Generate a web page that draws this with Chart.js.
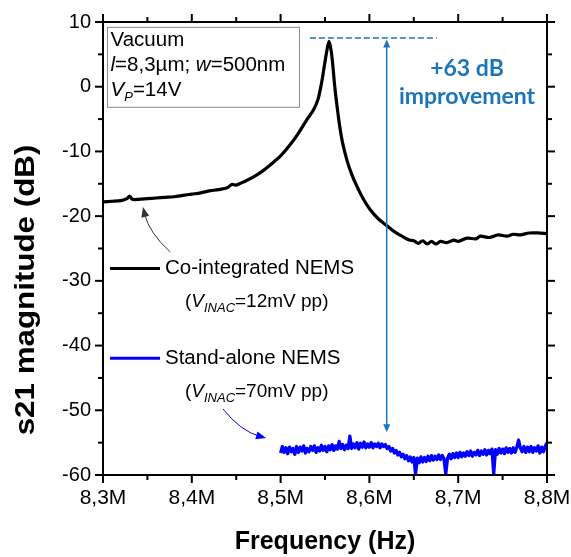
<!DOCTYPE html>
<html>
<head>
<meta charset="utf-8">
<script src="https://cdn.jsdelivr.net/npm/chart.js@4/dist/chart.umd.min.js"></script>
<style>
  html, body { margin: 0; padding: 0; background: #fff; }
  #wrap { width: 571px; height: 557px; position: relative; }
</style>
</head>
<body>
<div id="wrap"><canvas id="c" width="571" height="557"></canvas></div>
<script>
// ---------- DATA ----------
const xTickValues = [8.3, 8.4, 8.5, 8.6, 8.7, 8.8];
const xTickLabels = ['8,3M', '8,4M', '8,5M', '8,6M', '8,7M', '8,8M'];
const xMinorValues = [8.35, 8.45, 8.55, 8.65, 8.75];
const yTickValues = [-60, -50, -40, -30, -20, -10, 0, 10];
const yTickLabels = ['-60', '-50', '-40', '-30', '-20', '-10', '0', '10'];
const yMinorValues = [-55, -45, -35, -25, -15, -5, 5];

// Co-integrated NEMS (black), frequency in MHz, magnitude in dB
const coFreq = [8.300, 8.310, 8.320, 8.327, 8.330, 8.333, 8.340, 8.350, 8.360, 8.370,
  8.380, 8.390, 8.400, 8.410, 8.420, 8.430, 8.440, 8.445, 8.450, 8.460,
  8.470, 8.480, 8.490, 8.500, 8.510, 8.520, 8.530, 8.537, 8.542, 8.546,
  8.549, 8.552, 8.5545, 8.557, 8.559, 8.561, 8.564, 8.567, 8.570, 8.575,
  8.580, 8.586, 8.593, 8.601, 8.610, 8.619, 8.628, 8.638, 8.645, 8.650,
  8.655, 8.660, 8.665, 8.670, 8.675, 8.680, 8.687, 8.695, 8.700, 8.710,
  8.720, 8.725, 8.735, 8.745, 8.755, 8.762, 8.770, 8.780, 8.790, 8.800];
const coMag = [-17.8, -17.7, -17.6, -17.3, -16.9, -17.4, -17.4, -17.3, -17.2, -17.1,
  -17.0, -16.8, -16.6, -16.4, -16.1, -15.9, -15.6, -15.1, -15.2, -14.6,
  -13.9, -13.0, -11.9, -10.7, -9.1, -7.2, -5.0, -3.6, -2.0, 0.5,
  3.0, 5.5, 7.0, 5.5, 3.0, 0.0, -3.5, -6.5, -8.8, -11.5,
  -13.5, -15.4, -17.3, -19.0, -20.4, -21.4, -22.4, -23.2, -23.7, -23.8,
  -24.2, -23.8, -24.3, -23.9, -24.3, -23.9, -24.1, -23.7, -23.9, -23.4,
  -23.5, -23.1, -23.3, -22.9, -23.1, -22.8, -22.9, -22.6, -22.6, -22.7];

// Stand-alone NEMS (blue)
const saFreq = [
  8.500, 8.502, 8.504, 8.506, 8.508, 8.510, 8.512, 8.514, 8.516, 8.518,
  8.520, 8.522, 8.524, 8.526, 8.528, 8.530, 8.532, 8.534, 8.536, 8.538,
  8.540, 8.542, 8.544, 8.546, 8.548, 8.550, 8.552, 8.554, 8.556, 8.558,
  8.560, 8.562, 8.564, 8.566, 8.568, 8.570, 8.572, 8.574, 8.576, 8.578,
  8.580, 8.582, 8.584, 8.586, 8.588, 8.590, 8.592, 8.594, 8.596, 8.598,
  8.600, 8.602, 8.604, 8.606, 8.608, 8.610, 8.612, 8.614, 8.616, 8.618,
  8.620, 8.622, 8.624, 8.626, 8.628, 8.630, 8.632, 8.634, 8.636, 8.638,
  8.640, 8.642, 8.644, 8.646, 8.648, 8.650, 8.652, 8.654, 8.656, 8.658,
  8.660, 8.662, 8.664, 8.666, 8.668, 8.670, 8.672, 8.674, 8.676, 8.678,
  8.680, 8.682, 8.684, 8.686, 8.688, 8.690, 8.692, 8.694, 8.696, 8.698,
  8.700, 8.702, 8.704, 8.706, 8.708, 8.710, 8.712, 8.714, 8.716, 8.718,
  8.720, 8.722, 8.724, 8.726, 8.728, 8.730, 8.732, 8.734, 8.736, 8.738,
  8.740, 8.742, 8.744, 8.746, 8.748, 8.750, 8.752, 8.754, 8.756, 8.758,
  8.760, 8.762, 8.764, 8.766, 8.768, 8.770, 8.772, 8.774, 8.776, 8.778,
  8.780, 8.782, 8.784, 8.786, 8.788, 8.790, 8.792, 8.794, 8.796, 8.798, 8.800];
const saMag = [
  -56.6, -55.6, -56.5, -55.8, -56.7, -55.7, -56.4, -55.9, -56.8, -55.6,
  -56.5, -55.7, -56.3, -55.5, -56.6, -55.9, -56.4, -55.6, -56.2, -55.5,
  -56.5, -55.8, -56.3, -55.4, -56.2, -55.6, -56.4, -55.5, -56.1, -55.3,
  -56.2, -55.5, -56.0, -54.8, -55.9, -55.3, -56.1, -55.4, -55.9, -54.0,
  -55.9, -55.2, -55.8, -55.0, -56.0, -55.1, -55.7, -54.9, -55.8, -55.2,
  -55.7, -55.0, -55.8, -55.2, -55.6, -55.1, -55.8, -55.2, -55.6, -55.3,
  -55.9, -55.6, -56.3, -55.9, -56.6, -56.2, -56.9, -56.5, -57.2, -56.8,
  -57.5, -57.0, -57.8, -57.2, -58.0, -57.3, -59.8, -57.4, -58.1, -57.2,
  -58.0, -57.3, -57.9, -57.1, -57.8, -57.0, -57.7, -57.1, -57.6, -56.9,
  -57.6, -57.0, -57.5, -59.8, -57.4, -56.8, -57.5, -56.7, -57.3, -56.6,
  -57.3, -56.5, -57.2, -56.6, -57.1, -56.4, -57.0, -56.3, -57.1, -56.5,
  -56.9, -56.2, -57.0, -56.3, -56.8, -56.1, -56.9, -56.2, -56.7, -56.0,
  -59.8, -56.1, -56.8, -55.9, -56.6, -56.0, -56.7, -55.8, -56.5, -55.9,
  -56.6, -55.8, -56.5, -55.7, -54.6, -55.8, -56.4, -55.6, -56.5, -55.7,
  -56.4, -55.6, -56.5, -55.8, -56.3, -55.5, -56.6, -55.7, -56.4, -55.6, -55.0];

// Annotation anchors (in data units: MHz, dB)
const improvementArrow = { f: 8.6195, top: 7.3, bottom: -53.4 };
const dashedLine = { f0: 8.533, f1: 8.676, v: 7.54 };

// ---------- CHART ----------
const FONT = '"Liberation Sans", Arial, sans-serif';
const ANN_BLUE = '#1c75b8';

function richText(ctx, x, y, parts) {
  let cx = x;
  parts.forEach(p => {
    ctx.font = p.font;
    ctx.fillText(p.t, cx, y + (p.dy || 0));
    cx += ctx.measureText(p.t).width;
  });
}
function arrowHead(ctx, x, y, ang, len, w) {
  ctx.beginPath();
  ctx.moveTo(x, y);
  ctx.lineTo(x - len * Math.cos(ang) + w * Math.sin(ang), y - len * Math.sin(ang) - w * Math.cos(ang));
  ctx.lineTo(x - len * Math.cos(ang) - w * Math.sin(ang), y - len * Math.sin(ang) + w * Math.cos(ang));
  ctx.closePath();
  ctx.fill();
}

const decor = {
  id: 'decor',
  afterDraw(chart) {
    const { ctx, chartArea: ca, scales } = chart;
    const X = v => scales.x.getPixelForValue(v);
    const Y = v => scales.y.getPixelForValue(v);
    ctx.save();
    // frame
    ctx.strokeStyle = '#000';
    ctx.lineWidth = 2;
    ctx.strokeRect(ca.left, ca.top, ca.right - ca.left, ca.bottom - ca.top);
    // ticks
    const tick = (x1, y1, x2, y2, w) => { ctx.lineWidth = w; ctx.beginPath(); ctx.moveTo(x1, y1); ctx.lineTo(x2, y2); ctx.stroke(); };
    xTickValues.forEach(v => { const px = X(v); tick(px, ca.bottom, px, ca.bottom + 8, 2); tick(px, ca.top, px, ca.top - 8, 2); });
    xMinorValues.forEach(v => { const px = X(v); tick(px, ca.bottom, px, ca.bottom + 5, 2); tick(px, ca.top, px, ca.top - 5, 2); });
    yTickValues.forEach(v => { const py = Y(v); tick(ca.left, py, ca.left - 8, py, 2); tick(ca.right, py, ca.right + 8, py, 2); });
    yMinorValues.forEach(v => { const py = Y(v); tick(ca.left, py, ca.left - 5, py, 2); tick(ca.right, py, ca.right + 5, py, 2); });

    // axis titles
    ctx.fillStyle = '#000';
    ctx.textAlign = 'center';
    ctx.textBaseline = 'middle';
    ctx.font = 'bold 25px ' + FONT;
    ctx.fillText('Frequency (Hz)', (ca.left + ca.right) / 2, 542);
    ctx.save();
    ctx.translate(27, 290);
    ctx.rotate(-Math.PI / 2);
    ctx.scale(1.16, 1);
    ctx.font = 'bold 27px ' + FONT;
    ctx.fillText('s21 magnitude (dB)', 0, 0);
    ctx.restore();

    // info box
    ctx.strokeStyle = '#8c8c8c';
    ctx.lineWidth = 1;
    const bx0 = X(8.3045), by0 = Y(9.25), bx1 = X(8.5207), by1 = Y(-3.1);
    ctx.fillStyle = '#fff';
    ctx.fillRect(bx0, by0, bx1 - bx0, by1 - by0);
    ctx.strokeRect(bx0 + 0.5, by0 + 0.5, bx1 - bx0, by1 - by0);
    ctx.fillStyle = '#000';
    ctx.textAlign = 'left';
    ctx.textBaseline = 'alphabetic';
    const f20 = '20.5px ' + FONT, f20i = 'italic 20.5px ' + FONT;
    const tx = X(8.3085);
    richText(ctx, tx, Y(6.35), [{ t: 'Vacuum', font: f20 }]);
    richText(ctx, tx, Y(2.5), [{ t: 'l', font: f20i }, { t: '=8,3µm; ', font: f20 }, { t: 'w', font: f20i }, { t: '=500nm', font: f20 }]);
    richText(ctx, tx, Y(-1.4), [{ t: 'V', font: f20i }, { t: 'P', font: 'italic 13px ' + FONT, dy: 5 }, { t: '=14V', font: f20 }]);

    // dashed reference line
    ctx.strokeStyle = ANN_BLUE;
    ctx.lineWidth = 1.5;
    ctx.setLineDash([6, 3]);
    ctx.beginPath();
    ctx.moveTo(X(dashedLine.f0), Y(dashedLine.v));
    ctx.lineTo(X(dashedLine.f1), Y(dashedLine.v));
    ctx.stroke();
    ctx.setLineDash([]);
    // double arrow
    const ax = X(improvementArrow.f), ayT = Y(improvementArrow.top), ayB = Y(improvementArrow.bottom);
    ctx.beginPath();
    ctx.moveTo(ax, ayT + 6);
    ctx.lineTo(ax, ayB - 6);
    ctx.stroke();
    ctx.fillStyle = ANN_BLUE;
    arrowHead(ctx, ax, ayT, -Math.PI / 2, 8, 3.5);
    arrowHead(ctx, ax, ayB, Math.PI / 2, 8, 3.5);
    // improvement text
    ctx.textAlign = 'center';
    ctx.font = 'bold 23px Lato, "Open Sans", sans-serif';
    ctx.fillText('+63 dB', X(8.7099), Y(1.7));
    ctx.fillText('improvement', X(8.7099), Y(-2.6));

    // legend entries
    ctx.textAlign = 'left';
    ctx.lineWidth = 3;
    ctx.strokeStyle = '#000';
    ctx.beginPath(); ctx.moveTo(X(8.3079), Y(-28.1)); ctx.lineTo(X(8.3642), Y(-28.1)); ctx.stroke();
    ctx.strokeStyle = '#0000ff';
    ctx.beginPath(); ctx.moveTo(X(8.3079), Y(-41.95)); ctx.lineTo(X(8.3642), Y(-41.95)); ctx.stroke();
    ctx.fillStyle = '#000';
    ctx.textBaseline = 'middle';
    ctx.font = '20.5px ' + FONT;
    ctx.fillText('Co-integrated NEMS', X(8.3698), Y(-28.1));
    ctx.fillText('Stand-alone NEMS', X(8.3698), Y(-41.95));
    ctx.textBaseline = 'alphabetic';
    const f17 = '19px ' + FONT, f17i = 'italic 19px ' + FONT, fsub = 'italic 13px ' + FONT;
    richText(ctx, X(8.3923), Y(-34.0), [{ t: '(', font: f17 }, { t: 'V', font: f17i }, { t: 'INAC', font: fsub, dy: 5 }, { t: '=12mV pp)', font: f17 }]);
    richText(ctx, X(8.3923), Y(-47.9), [{ t: '(', font: f17 }, { t: 'V', font: f17i }, { t: 'INAC', font: fsub, dy: 5 }, { t: '=70mV pp)', font: f17 }]);

    // curved pointer arrows
    const curveArrow = (p0, c, p1, color) => {
      const x0 = X(p0[0]), y0 = Y(p0[1]), cx = X(c[0]), cy = Y(c[1]), x1 = X(p1[0]), y1 = Y(p1[1]);
      ctx.strokeStyle = color; ctx.fillStyle = color; ctx.lineWidth = 1;
      const ang = Math.atan2(y1 - cy, x1 - cx);
      ctx.beginPath(); ctx.moveTo(x0, y0);
      ctx.quadraticCurveTo(cx, cy, x1 - 7 * Math.cos(ang), y1 - 7 * Math.sin(ang));
      ctx.stroke();
      arrowHead(ctx, x1, y1, ang, 10, 4);
    };
    curveArrow([8.3755, -25.5], [8.352, -22.6], [8.345, -18.6], '#333');
    curveArrow([8.4351, -49.8], [8.455, -53.2], [8.4836, -54.3], '#0000ff');
    ctx.restore();
  }
};

new Chart(document.getElementById('c'), {
  type: 'line',
  data: {
    datasets: [
      { label: 'Co-integrated NEMS', data: coFreq.map((f, i) => ({ x: f, y: coMag[i] })),
        borderColor: '#000', borderWidth: 3.2, pointRadius: 0, tension: 0.3, fill: false,
        borderJoinStyle: 'round' },
      { label: 'Stand-alone NEMS', data: saFreq.map((f, i) => ({ x: f, y: saMag[i] })),
        borderColor: '#0000ff', borderWidth: 3.3, pointRadius: 0, tension: 0, fill: false,
        borderJoinStyle: 'round' }
    ]
  },
  options: {
    responsive: false,
    animation: false,
    layout: { padding: { top: 22, right: 24, left: 0, bottom: 0 } },
    plugins: { legend: { display: false }, tooltip: { enabled: false } },
    scales: {
      x: {
        type: 'linear', min: 8.3, max: 8.8,
        afterBuildTicks: s => { s.ticks = xTickValues.map(v => ({ value: v })); },
        afterFit: s => { s.height = 82; s.paddingLeft = 0; s.paddingRight = 0; },
        grid: { display: false, drawTicks: false },
        border: { display: false },
        ticks: { padding: 11, color: '#000', font: { family: FONT, size: 21 }, maxRotation: 0,
          callback: (v, i) => xTickLabels[i] }
      },
      y: {
        type: 'linear', min: -60, max: 10,
        afterBuildTicks: s => { s.ticks = yTickValues.map(v => ({ value: v })); },
        afterFit: s => { s.width = 103; s.paddingTop = 0; s.paddingBottom = 0; },
        grid: { display: false, drawTicks: false },
        border: { display: false },
        ticks: { padding: 12, color: '#000', font: { family: FONT, size: 20 },
          callback: (v, i) => yTickLabels[i] }
      }
    }
  },
  plugins: [decor]
});
</script>
</body>
</html>
